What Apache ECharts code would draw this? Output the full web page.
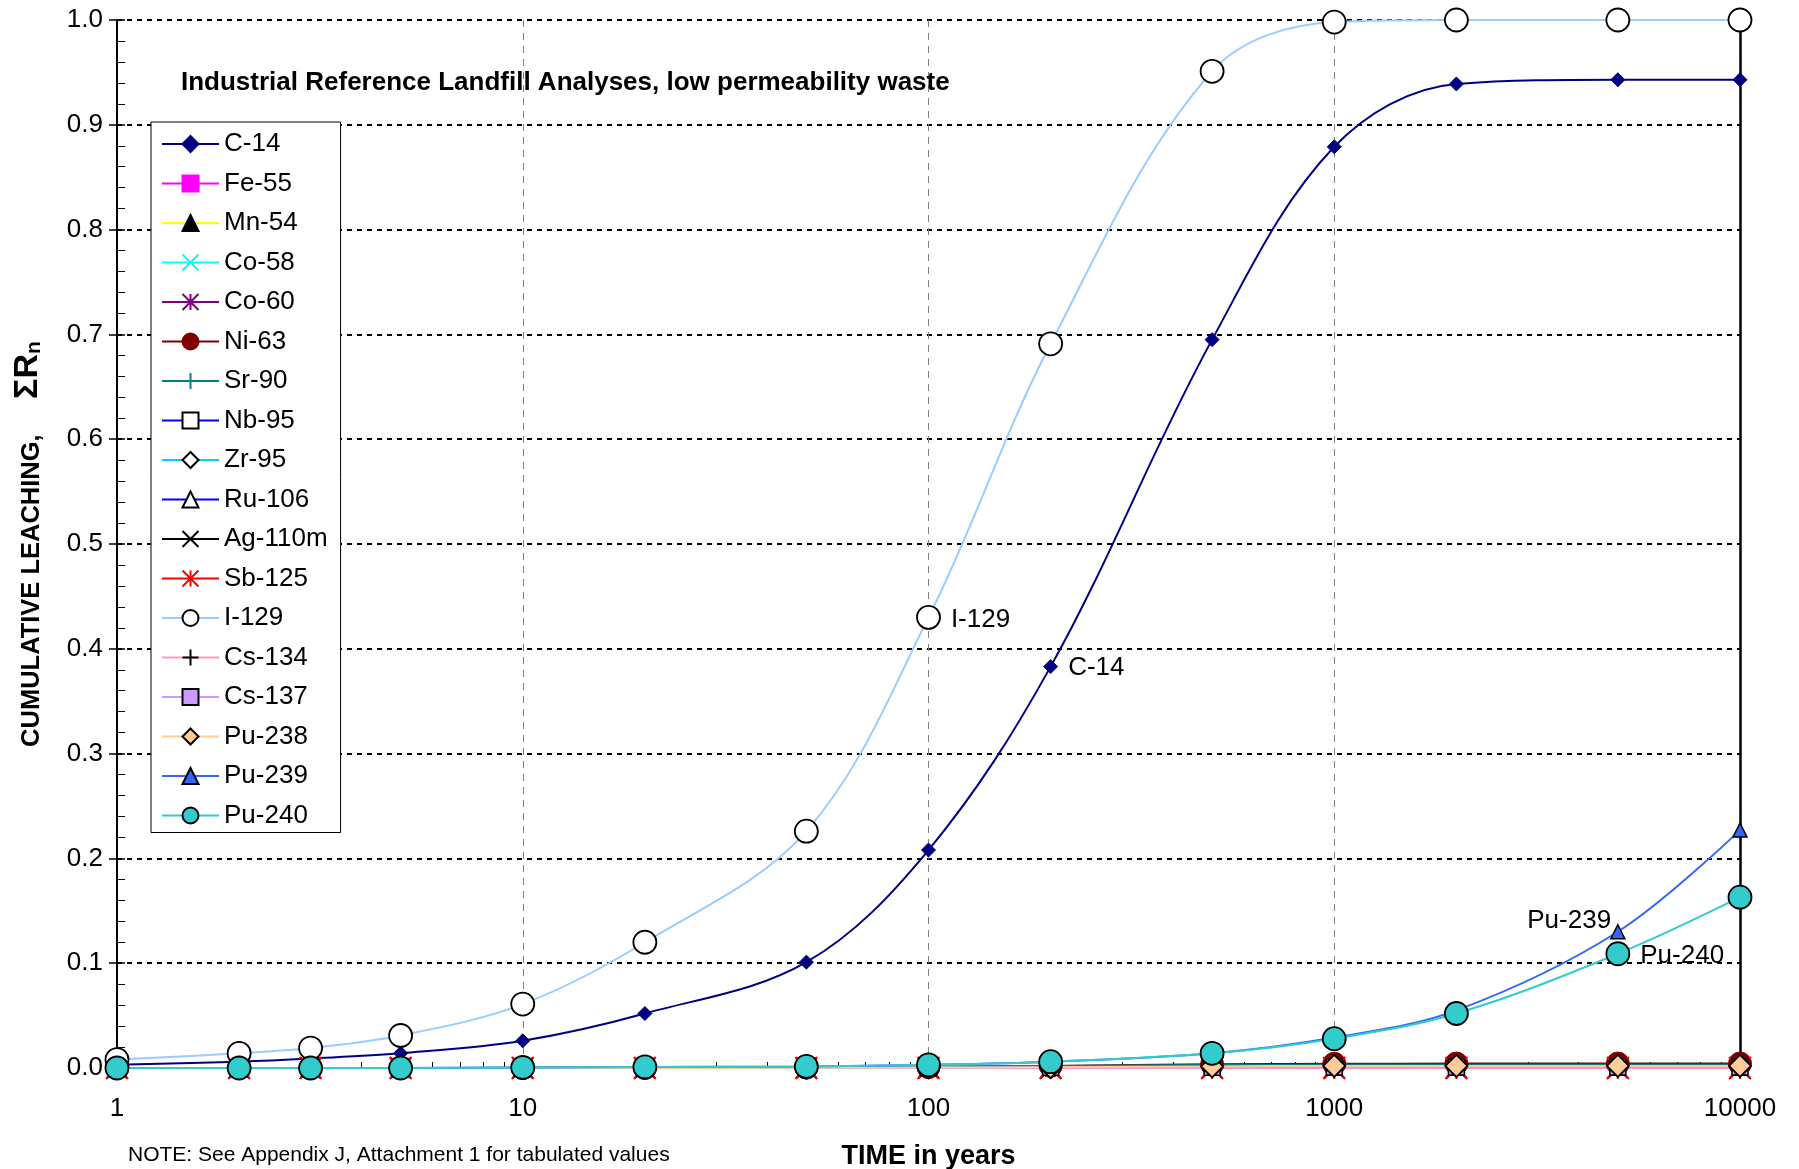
<!DOCTYPE html>
<html>
<head>
<meta charset="utf-8">
<title>Industrial Reference Landfill Analyses</title>
<script src="https://cdn.jsdelivr.net/npm/echarts@6/dist/echarts.min.js"></script>
<style>
  html, body { margin: 0; padding: 0; background: #ffffff; }
  #chart { width: 1799px; height: 1169px; }
</style>
</head>
<body>
<div id="chart"></div>
<script>
// Time points (years) at which cumulative leaching was evaluated
const years = [1, 2, 3, 5, 10, 20, 50, 100, 200, 500, 1000, 2000, 5000, 10000];

// Cumulative leached fraction, one array per nuclide
const c14    = [0.003, 0.006, 0.009, 0.014, 0.026, 0.052, 0.101, 0.208, 0.383, 0.695, 0.879, 0.939, 0.943, 0.943];
const fe55   = [0, 0, 0, 0, 0, 0, 0, 0, 0, 0, 0, 0, 0, 0];
const mn54   = [0, 0, 0, 0, 0, 0, 0, 0, 0, 0, 0, 0, 0, 0];
const co58   = [0, 0, 0, 0, 0, 0, 0, 0, 0, 0, 0, 0, 0, 0];
const co60   = [0, 0, 0, 0, 0, 0, 0, 0, 0, 0, 0, 0, 0, 0];
const ni63   = [0, 0, 0, 0, 0, 0, 0.0003, 0.0008, 0.002, 0.0035, 0.004, 0.0042, 0.0042, 0.0042];
const sr90   = [0, 0, 0, 0, 0.0003, 0.0006, 0.001, 0.0015, 0.002, 0.0028, 0.003, 0.003, 0.003, 0.003];
const nb95   = [0, 0, 0, 0, 0, 0, 0, 0, 0, 0, 0, 0, 0, 0];
const zr95   = [0, 0, 0, 0, 0, 0, 0, 0, 0, 0, 0, 0, 0, 0];
const ru106  = [0, 0, 0, 0, 0, 0, 0, 0, 0, 0, 0, 0, 0, 0];
const ag110m = [0, 0, 0, 0, 0, 0, 0, 0, 0, 0, 0, 0, 0, 0];
const sb125  = [0, 0, 0, 0, 0, 0, 0, 0, 0, 0, 0, 0, 0, 0];
const i129   = [0.008, 0.014, 0.019, 0.031, 0.061, 0.120, 0.226, 0.430, 0.691, 0.951, 0.998, 1.0, 1.0, 1.0];
const cs134  = [0, 0, 0, 0, 0, 0, 0, 0, 0, 0, 0, 0, 0, 0];
const cs137  = [0, 0, 0, 0, 0, 0, 0.0002, 0.0004, 0.0006, 0.0008, 0.001, 0.001, 0.001, 0.001];
const pu238  = [0, 0, 0, 0, 0, 0, 0.0002, 0.0004, 0.0008, 0.0015, 0.002, 0.002, 0.002, 0.002];
const pu239  = [0, 0, 0, 0, 0.0005, 0.001, 0.0015, 0.003, 0.006, 0.014, 0.029, 0.055, 0.130, 0.227];
const pu240  = [0, 0, 0, 0, 0.0005, 0.001, 0.0015, 0.003, 0.006, 0.014, 0.028, 0.052, 0.109, 0.163];

// Axis ticks
const yTickLabels = ['0.0', '0.1', '0.2', '0.3', '0.4', '0.5', '0.6', '0.7', '0.8', '0.9', '1.0'];
const xTickLabels = ['1', '10', '100', '1000', '10000'];
const xMinorYears = [2, 3, 4, 5, 6, 7, 8, 9,
                     20, 30, 40, 50, 60, 70, 80, 90,
                     200, 300, 400, 500, 600, 700, 800, 900,
                     2000, 3000, 4000, 5000, 6000, 7000, 8000, 9000];

// Marker shapes that are drawn as strokes
const SYM_X = 'path://M0,0L10,10M10,0L0,10';
const SYM_STAR = 'path://M0,0L10,10M10,0L0,10M5,0L5,10';
const SYM_PLUS = 'path://M5,0L5,10M0,5L10,5';

const FONT = '"Liberation Sans", Arial, Helvetica, sans-serif';

// Series appearance: line colour, marker shape/fill/outline
const nuclides = [
  { name: 'C-14',    data: c14,    line: '#000080', symbol: 'diamond',  size: 14, fill: '#000080', edge: '#000080', ew: 1 },
  { name: 'Fe-55',   data: fe55,   line: '#FF00FF', symbol: 'rect',     size: 14, fill: '#FF00FF', edge: '#FF00FF', ew: 1 },
  { name: 'Mn-54',   data: mn54,   line: '#FFFF00', symbol: 'triangle', size: 14, fill: '#000000', edge: '#000000', ew: 1 },
  { name: 'Co-58',   data: co58,   line: '#00FFFF', symbol: SYM_X,      size: 20, fill: 'rgba(0,0,0,0)', edge: '#00FFFF', ew: 2 },
  { name: 'Co-60',   data: co60,   line: '#800080', symbol: SYM_STAR,   size: 20, fill: 'rgba(0,0,0,0)', edge: '#800080', ew: 2 },
  { name: 'Ni-63',   data: ni63,   line: '#800000', symbol: 'circle',   size: 23, fill: '#800000', edge: '#800000', ew: 1 },
  { name: 'Sr-90',   data: sr90,   line: '#008080', symbol: SYM_PLUS,   size: 18, fill: 'rgba(0,0,0,0)', edge: '#008080', ew: 2 },
  { name: 'Nb-95',   data: nb95,   line: '#0000FF', symbol: 'rect',     size: 14, fill: '#FFFFFF', edge: '#000000', ew: 1.5 },
  { name: 'Zr-95',   data: zr95,   line: '#00CCFF', symbol: 'diamond',  size: 14, fill: '#FFFFFF', edge: '#000000', ew: 1.5 },
  { name: 'Ru-106',  data: ru106,  line: '#0000FF', symbol: 'triangle', size: 14, fill: '#FFFFFF', edge: '#000000', ew: 1.5 },
  { name: 'Ag-110m', data: ag110m, line: '#000000', symbol: SYM_X,      size: 20, fill: 'rgba(0,0,0,0)', edge: '#000000', ew: 2 },
  { name: 'Sb-125',  data: sb125,  line: '#FF0000', symbol: SYM_STAR,   size: 22, fill: 'rgba(0,0,0,0)', edge: '#FF0000', ew: 2 },
  { name: 'I-129',   data: i129,   line: '#99CCFF', symbol: 'circle',   size: 23, fill: '#FFFFFF', edge: '#000000', ew: 1.8 },
  { name: 'Cs-134',  data: cs134,  line: '#FF99CC', symbol: SYM_PLUS,   size: 18, fill: 'rgba(0,0,0,0)', edge: '#000000', ew: 2 },
  { name: 'Cs-137',  data: cs137,  line: '#CC99FF', symbol: 'rect',     size: 16, fill: '#CC99FF', edge: '#000000', ew: 1.5 },
  { name: 'Pu-238',  data: pu238,  line: '#FFCC99', symbol: 'diamond',  size: 22, fill: '#FFCC99', edge: '#000000', ew: 1.8 },
  { name: 'Pu-239',  data: pu239,  line: '#3366FF', symbol: 'triangle', size: 14, fill: '#3366FF', edge: '#000000', ew: 1.5 },
  { name: 'Pu-240',  data: pu240,  line: '#33CCCC', symbol: 'circle',   size: 23, fill: '#33CCCC', edge: '#000000', ew: 1.8 }
];

// Callout labels attached to individual points
const callouts = [
  { series: 'I-129',  year: 100,  text: 'I-129',  position: 'right', distance: 10, offset: [0, 2] },
  { series: 'C-14',   year: 200,  text: 'C-14',   position: 'right', distance: 10, offset: [0, 1] },
  { series: 'Pu-239', year: 5000, text: 'Pu-239', position: 'left',  distance: 5,  offset: [6, -11] },
  { series: 'Pu-240', year: 5000, text: 'Pu-240', position: 'right', distance: 10, offset: [0, 2] }
];

const series = nuclides.map(n => ({
  name: n.name,
  type: 'line',
  xAxisIndex: 0,
  yAxisIndex: 0,
  smooth: 0.35,
  showAllSymbol: true,
  symbol: n.symbol,
  symbolSize: n.size,
  lineStyle: { color: n.line, width: 2 },
  itemStyle: { color: n.fill, borderColor: n.edge, borderWidth: n.ew },
  emphasis: { disabled: true },
  data: years.map((yr, i) => {
    const c = callouts.find(k => k.series === n.name && k.year === yr);
    if (!c) return [yr, n.data[i]];
    return {
      value: [yr, n.data[i]],
      label: {
        show: true, formatter: c.text, position: c.position, distance: c.distance,
        offset: c.offset, color: '#000', fontSize: 26, fontFamily: FONT
      }
    };
  })
}));

const chart = echarts.init(document.getElementById('chart'), null, { renderer: 'canvas' });

chart.setOption({
  backgroundColor: '#ffffff',
  animation: false,
  textStyle: { fontFamily: FONT },
  grid: {
    left: 117, right: 59, top: 20, bottom: 101, show: false,
    containLabel: false, outerBoundsMode: 'none'
  },
  legend: {
    orient: 'vertical',
    left: 151, top: 122,
    padding: [8, 13, 3, 10],
    itemWidth: 57, itemHeight: 20, itemGap: 11.5,
    backgroundColor: '#ffffff',
    borderColor: '#000000', borderWidth: 1,
    textStyle: { fontSize: 26, lineHeight: 28, color: '#000000', fontFamily: FONT },
    data: nuclides.map(n => n.name)
  },
  xAxis: [
    {
      type: 'log', logBase: 10, min: 1, max: 10000,
      position: 'bottom',
      name: 'TIME in years', nameLocation: 'middle', nameGap: 75,
      nameTextStyle: { fontSize: 27, fontWeight: 'bold', color: '#000', fontFamily: FONT },
      axisLine: { show: true, onZero: false, lineStyle: { color: '#000', width: 2 } },
      axisTick: { show: true, inside: true, length: 8, lineStyle: { color: '#000', width: 1.5 } },
      axisLabel: {
        margin: 28, fontSize: 26, color: '#000', fontFamily: FONT,
        formatter: v => xTickLabels.find(t => Number(t) === Math.round(v)) || ''
      },
      splitLine: { show: true, lineStyle: { color: '#808080', width: 1, type: [7, 6] } }
    },
    {
      // log-spaced minor ticks (2..9 in each decade) on a helper axis in decades
      type: 'value', min: 0, max: 4, position: 'bottom',
      axisLine: { show: false },
      axisLabel: { show: false },
      splitLine: { show: false },
      axisTick: {
        show: true, inside: true, length: 6,
        customValues: xMinorYears.map(v => Math.log10(v)),
        lineStyle: { color: '#000', width: 1 }
      }
    }
  ],
  yAxis: [
    {
      type: 'value', min: 0, max: 1, interval: 0.1,
      name: '{m|CUMULATIVE LEACHING,     }{s|ΣR}{n|n}',
      nameLocation: 'middle', nameGap: 72, nameRotate: 90,
      nameTextStyle: {
        rich: {
          m: { fontSize: 25.5, fontWeight: 'bold', color: '#000', fontFamily: FONT, verticalAlign: 'bottom' },
          s: { fontSize: 34, fontWeight: 'bold', color: '#000', fontFamily: FONT, verticalAlign: 'bottom' },
          n: { fontSize: 21, fontWeight: 'bold', color: '#000', fontFamily: FONT, verticalAlign: 'bottom' }
        }
      },
      axisLine: { show: true, lineStyle: { color: '#000', width: 2 } },
      axisTick: { show: true, inside: true, length: 8, lineStyle: { color: '#000', width: 1.5 } },
      minorTick: { show: true, splitNumber: 5, length: 8, lineStyle: { color: '#000', width: 1 } },
      axisLabel: {
        margin: 14, fontSize: 26, color: '#000', fontFamily: FONT,
        formatter: v => yTickLabels[Math.round(v * 10)]
      },
      splitLine: { show: true, lineStyle: { color: '#000', width: 2, type: [5, 5] } }
    },
    {
      // outward part of the major tick marks
      type: 'value', min: 0, max: 1, interval: 0.1, position: 'left',
      axisLine: { show: false },
      axisLabel: { show: false },
      splitLine: { show: false },
      axisTick: { show: true, inside: false, length: 8, lineStyle: { color: '#000', width: 1.5 } }
    },
    {
      // solid right-hand frame line at 10000 years
      type: 'value', min: 0, max: 1, interval: 0.1, position: 'right', z: 3,
      axisLine: { show: true, lineStyle: { color: '#000', width: 2.5 } },
      axisTick: { show: false },
      axisLabel: { show: false },
      splitLine: { show: false }
    }
  ],
  graphic: [
    {
      type: 'text', left: 181, top: 70, z: 100,
      style: {
        text: 'Industrial Reference Landfill Analyses, low permeability waste',
        font: 'bold 26px ' + FONT, fill: '#000'
      }
    },
    {
      type: 'text', left: 128, top: 1145, z: 100,
      style: {
        text: 'NOTE: See Appendix J, Attachment 1 for tabulated values',
        font: '21px ' + FONT, fill: '#000'
      }
    }
  ],
  series: series
});
</script>
</body>
</html>
